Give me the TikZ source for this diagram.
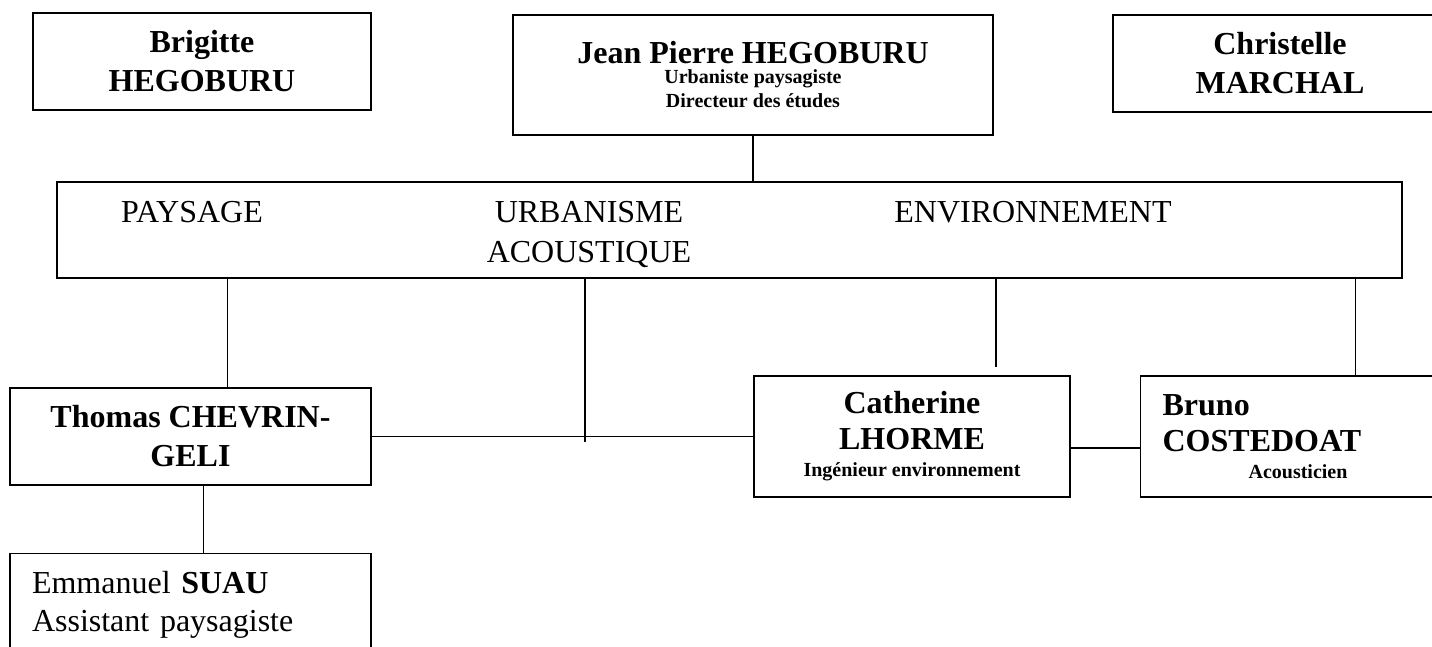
\documentclass[tikz,border=0pt]{standalone}
\usepackage{fontspec}
\setmainfont{Liberation Serif}
\usetikzlibrary{positioning}
\tikzset{personne/.style={draw, line width=1.6pt, inner sep=0pt, align=center, font=\fontsize{32}{39}\selectfont\bfseries}}
\tikzset{domaine/.style={inner sep=0pt, anchor=north, align=center, font=\fontsize{32}{40}\selectfont}}
\tikzset{lien/.style={line width=1.6pt}}
\newcommand{\fonction}{\fontsize{20}{24}\selectfont}

\begin{document}
\begin{tikzpicture}[x=1pt,y=-1pt]
\clip (0,0) rectangle (1432,646);
% direction
\node[personne, minimum width=338pt, minimum height=97pt] (brigitte) at (202,61.5) {Brigitte\\HEGOBURU};
\node[personne, minimum width=480pt, minimum height=120pt] (hegoburu) at (753,75) {Jean Pierre HEGOBURU\\[-19pt]\fonction Urbaniste paysagiste\\[-15pt]\fonction Directeur des études};
\node[personne, minimum width=334pt, minimum height=97pt] (marchal) at (1280,63.5) {Christelle\\MARCHAL};

% domaines
\node[draw, line width=1.6pt, minimum width=1345pt, minimum height=96pt] (domaines) at (729.5,230) {};
\node[domaine] (paysage) at (192,201) {PAYSAGE};
\node[domaine] (urbanisme) at (589,201) {URBANISME\\ACOUSTIQUE};
\node[domaine] (environnement) at (1033,201) {ENVIRONNEMENT};

% equipe
\node[personne, minimum width=361pt, minimum height=97pt] (chevrin) at (190.5,436.5) {Thomas CHEVRIN-\\GELI};
\node[personne, align=left, text width=317pt, inner xsep=22pt, minimum height=102pt, font=\fontsize{32}{38}\selectfont] (suau) [below=67pt of chevrin] {Emmanuel \textbf{SUAU}\\Assistant paysagiste};
\node[personne, minimum width=316pt, minimum height=121pt] (lhorme) at (912,436.5) {Catherine\\[-3pt]LHORME\\[-12pt]\fonction Ingénieur environnement};
\node[personne, align=left, text width=270pt, inner xsep=22pt, minimum height=121pt] (costedoat) [right=69pt of lhorme] {Bruno\\[-3pt]COSTEDOAT\\[-12pt]\fonction\hspace*{86pt}Acousticien};

\coordinate (jonction) at (585,442);

\draw[lien] (hegoburu) -- (hegoburu |- domaines.north);
\draw[lien] ([xshift=37pt]chevrin.north |- domaines.south) -- ([xshift=37pt]chevrin.north);
\draw[lien] (jonction |- domaines.south) -- (jonction);
\draw[lien] ([xshift=84pt]lhorme.north |- domaines.south) -- ([xshift=84pt,yshift=8pt]lhorme.north);
\draw[lien] ([xshift=58pt]costedoat.north |- domaines.south) -- ([xshift=58pt]costedoat.north);
\draw[lien] (chevrin) -- (lhorme);
\draw[lien] ([yshift=-11.5pt]lhorme.east) -- ([yshift=-11.5pt]costedoat.west);
\draw[lien] ([xshift=13pt]chevrin.south) -- ([xshift=13pt]suau.north);
\end{tikzpicture}
\end{document}
